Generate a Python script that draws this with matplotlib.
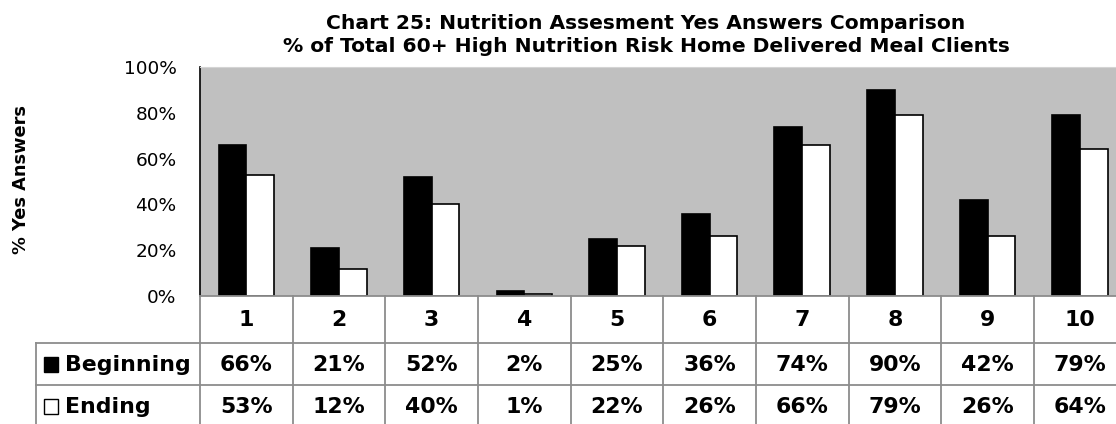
import numpy as np
import matplotlib.pyplot as plt
from matplotlib.patches import Rectangle

categories = ['1', '2', '3', '4', '5', '6', '7', '8', '9', '10']
beginning = [66, 21, 52, 2, 25, 36, 74, 90, 42, 79]
ending = [53, 12, 40, 1, 22, 26, 66, 79, 26, 64]
series_names = ['Beginning', 'Ending']
title = ('Chart 25: Nutrition Assesment Yes Answers Comparison\n'
         '% of Total 60+ High Nutrition Risk Home Delivered Meal Clients')

W, H = 1116, 424
plt.rcParams['font.family'] = ['DejaVu Sans']
fig = plt.figure(figsize=(W / 100, H / 100), dpi=100)

def px_axes(x0, y0, x1, y1):
    # pixel box (top-left origin) -> figure axes
    return fig.add_axes([x0 / W, 1 - y1 / H, (x1 - x0) / W, (y1 - y0) / H])

left, right, top, base = 200, 1126.6, 67, 296
unit = (right - left) / len(categories)

ax = px_axes(left, top, right, base)
ax.set_facecolor('#c0c0c0')
x = np.arange(1, len(categories) + 1)
w = 0.3
ax.bar(x - w / 2, beginning, w, color='black', edgecolor='black', linewidth=1.2)
ax.bar(x + w / 2, ending, w, color='white', edgecolor='black', linewidth=1.2)
ax.set_xlim(0.5, len(categories) + 0.5)
ax.set_ylim(0, 100)
ax.set_yticks(range(0, 101, 20))
ax.set_yticklabels([f'{v}%' for v in range(0, 101, 20)], fontsize=13.3)
ax.tick_params(axis='y', length=0, pad=17)
ax.set_xticks([])
ax.spines['left'].set_color('black')
ax.spines['left'].set_linewidth(1.2)
ax.spines['top'].set_color('#d4d4d4')
ax.spines['right'].set_visible(False)
ax.spines['bottom'].set_visible(False)

fig.text(21.5 / W, 1 - 179 / H, '% Yes Answers', rotation=90, fontsize=12.8,
         fontweight='bold', ha='center', va='center')
fig.text(646 / W, 1 - 35 / H, title, fontsize=14.6, fontweight='bold',
         ha='center', va='center', linespacing=1.28)

# data table below the plot
rows = [296, 343, 385, 427]
tleft = 36
tx0 = 0.5 - (left - tleft) / unit
tab = px_axes(tleft, rows[0], right, rows[-1])
tab.set_xlim(tx0, len(categories) + 0.5)
tab.set_ylim(rows[-1], rows[0])
tab.axis('off')
grid = dict(color='#8c8c8c', linewidth=1.3, clip_on=False)
tab.plot([0.5, len(categories) + 0.5], [rows[0], rows[0]], **grid)
for yv in rows[1:]:
    tab.plot([tx0, len(categories) + 0.5], [yv, yv], **grid)
for xv in np.arange(0.5, len(categories) + 1):
    tab.plot([xv, xv], [rows[0], rows[-1]], **grid)
tab.plot([tx0, tx0], [rows[1], rows[-1]], **grid)

tfs = 15.8
for xi, c in zip(x, categories):
    tab.text(xi, (rows[0] + rows[1]) / 2 + 1, c, fontsize=tfs, fontweight='bold',
             ha='center', va='center')
for r, (name, vals, fc) in enumerate(zip(series_names, [beginning, ending],
                                         ['black', 'white'])):
    yc = (rows[r + 1] + rows[r + 2]) / 2
    for xi, v in zip(x, vals):
        tab.text(xi, yc + 1, f'{v}%', fontsize=tfs, fontweight='bold',
                 ha='center', va='center')
    sq = 15 / unit
    tab.add_patch(Rectangle((tx0 + 7.5 / unit, yc - 7), sq, 15, facecolor=fc,
                            edgecolor='black', linewidth=1, clip_on=False))
    tab.text(tx0 + 29 / unit, yc + 1, name, fontsize=tfs, fontweight='bold',
             ha='left', va='center')

fig.savefig('out.png', dpi=100)
